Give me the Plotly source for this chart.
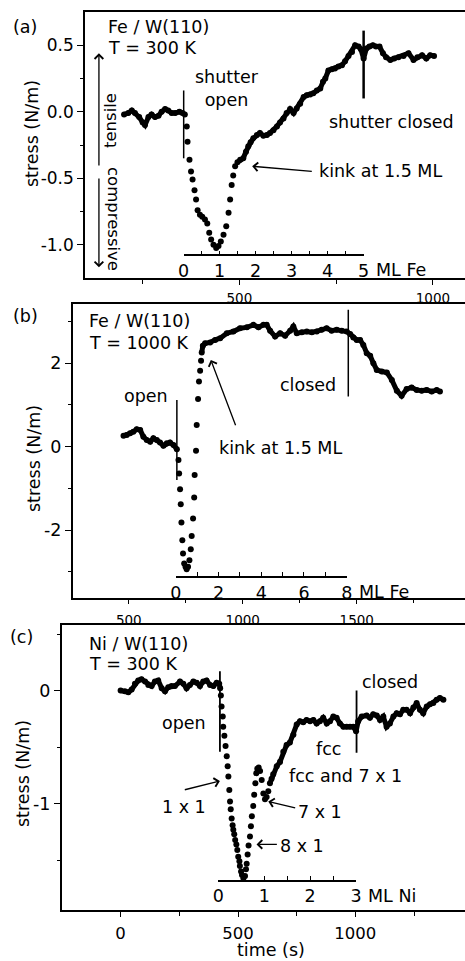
import plotly.graph_objects as go

W, H = 465, 961
FONT = "DejaVu Sans"

# ---------------- data (time s, stress N/m) ----------------
fe300_t = [202, 213, 222, 230, 241, 250, 256, 265, 273, 282, 291, 299, 308, 316, 325, 334, 345, 353, 359,
           364, 366, 371, 375, 379, 384, 388, 392, 398, 404, 411, 417, 422, 427, 433, 440, 446, 452, 459, 466,
           472, 476, 480, 484, 489, 495, 502, 510, 517, 523, 529, 536, 545, 553, 562, 571, 579, 588, 597, 605,
           614, 622, 631, 640, 648, 657, 666, 674, 683, 691, 700, 709, 716, 722, 730, 739, 747, 756, 765, 773,
           782, 791, 799, 808, 814, 821, 828, 836, 845, 853, 862, 871, 879, 890, 900, 911, 924, 937, 950, 960,
           972, 983, 993, 1003]
fe300_s = [-0.02, -0.01, 0.01, -0.01, -0.04, -0.08, -0.10, -0.04, -0.02, -0.04, -0.03, 0.00, 0.02, 0.01, -0.01, -0.01, 0.00, -0.01, -0.02,
           -0.11, -0.225, -0.36, -0.45, -0.51, -0.59, -0.66, -0.74, -0.775, -0.79, -0.81, -0.84, -0.91, -0.96, -1.00, -1.025, -1.01, -0.975, -0.925, -0.86,
           -0.76, -0.66, -0.55, -0.48, -0.41, -0.38, -0.36, -0.35, -0.30, -0.26, -0.23, -0.20, -0.175, -0.16, -0.18, -0.175, -0.16, -0.14, -0.11, -0.08,
           -0.05, -0.01, 0.02, -0.01, 0.025, 0.06, 0.11, 0.125, 0.13, 0.14, 0.16, 0.175, 0.225, 0.25, 0.31, 0.32, 0.325, 0.34, 0.35, 0.38,
           0.42, 0.45, 0.50, 0.49, 0.47, 0.40, 0.475, 0.49, 0.50, 0.49, 0.49, 0.44, 0.41, 0.39, 0.40, 0.41, 0.42, 0.44, 0.39, 0.41,
           0.425, 0.40, 0.425, 0.42]

fe1000_t = [477, 491, 506, 520, 535, 550, 564, 579, 594, 608, 623, 637, 652, 667, 681, 696, 711,
            718, 721, 725, 728, 731, 735, 738, 743, 749, 754, 760, 766, 772, 776, 782, 787, 789, 795, 798, 804, 808, 813, 817, 820, 825,
            835, 857, 879, 901, 930, 959, 988, 1018, 1047, 1069, 1091, 1105, 1120, 1142, 1164, 1186, 1208, 1222, 1237, 1259, 1281,
            1303, 1325, 1346, 1368, 1390, 1412, 1434, 1456, 1471, 1485, 1500, 1515, 1529, 1544, 1559, 1573, 1588, 1610, 1632, 1654,
            1676, 1697, 1719, 1741, 1763, 1785, 1807, 1829, 1851, 1865]
fe1000_s = [0.26, 0.28, 0.32, 0.36, 0.42, 0.40, 0.24, 0.16, 0.12, 0.20, 0.16, 0.10, 0.02, 0.08, 0.10, 0.04, -0.06,
            -0.32, -0.64, -1.02, -1.38, -1.82, -2.24, -2.56, -2.80, -2.88, -2.94, -2.88, -2.72, -2.46, -2.14, -1.72, -1.22, -0.68, -0.10, 0.52, 1.14, 1.56, 1.82, 2.06, 2.26, 2.42,
            2.48, 2.50, 2.56, 2.60, 2.72, 2.76, 2.84, 2.86, 2.92, 2.86, 2.92, 2.92, 2.78, 2.64, 2.72, 2.66, 2.78, 2.88, 2.72, 2.74, 2.76,
            2.74, 2.76, 2.80, 2.84, 2.78, 2.80, 2.78, 2.76, 2.70, 2.62, 2.56, 2.56, 2.44, 2.24, 2.18, 2.00, 1.84, 1.80, 1.78, 1.60,
            1.34, 1.22, 1.38, 1.42, 1.36, 1.34, 1.36, 1.32, 1.36, 1.32]

ni300_t = [0, 18, 33, 47, 61, 75, 89, 104, 118, 132, 146, 160, 175, 189, 203, 217, 231, 253, 267, 281, 295, 310, 324, 338, 352, 366, 381, 395, 409, 420, 424,
           427, 430, 435, 437, 442, 447, 452, 456, 459, 463, 466, 469, 473, 477, 480, 484, 488, 493, 497, 501, 506, 508, 513, 517, 523,
           530, 534, 537, 541, 545, 551, 555, 559, 565, 569, 574, 578, 582, 588, 594, 601, 608, 615, 622, 629, 636, 643, 650,
           665, 679, 693, 707, 721, 736, 750, 764, 778, 792, 807, 821, 835, 849, 863, 878, 892, 906, 920, 934, 949, 963, 977, 991, 1003,
           1012, 1027, 1048, 1062, 1076, 1091, 1105, 1119, 1133, 1147, 1162, 1176, 1190, 1204, 1218, 1233, 1247, 1261, 1275, 1289, 1304,
           1318, 1332, 1346, 1360, 1375]
ni300_s = [0.0, -0.006, -0.015, 0.01, 0.06, 0.09, 0.10, 0.08, 0.05, 0.04, 0.08, 0.09, 0.02, -0.006, 0.03, 0.04, 0.04, 0.08, 0.06, 0.02, 0.05, 0.08, 0.07, 0.04, 0.08, 0.09, 0.05, 0.04, 0.07, 0.06, 0.02,
           -0.044, -0.14, -0.23, -0.32, -0.40, -0.49, -0.58, -0.67, -0.76, -0.88, -0.98, -1.05, -1.13, -1.19, -1.23, -1.27, -1.32, -1.36, -1.41, -1.47, -1.51, -1.55, -1.60, -1.63, -1.66,
           -1.64, -1.58, -1.53, -1.45, -1.37, -1.29, -1.20, -1.11, -1.02, -0.92, -0.82, -0.73, -0.69, -0.68, -0.71, -0.79, -0.91, -0.96, -0.94, -0.89, -0.82, -0.78, -0.74,
           -0.67, -0.63, -0.54, -0.48, -0.46, -0.39, -0.30, -0.27, -0.28, -0.26, -0.27, -0.26, -0.29, -0.27, -0.24, -0.29, -0.27, -0.23, -0.24, -0.29, -0.32, -0.32, -0.32, -0.32, -0.36,
           -0.27, -0.23, -0.22, -0.24, -0.21, -0.22, -0.26, -0.23, -0.32, -0.29, -0.23, -0.20, -0.21, -0.17, -0.17, -0.20, -0.15, -0.11, -0.17, -0.20, -0.14,
           -0.12, -0.11, -0.08, -0.065, -0.08]

# shutter events: (time, top stress, bottom stress)
events_a = [(356, 0.16, -0.35), (821, 0.61, 0.10)]
events_b = [(711, 1.12, -0.80), (1463, 3.28, 1.20)]
events_c = [(423, 0.17, -0.54), (1005, 0.0, -0.55)]

# monolayer scales: (time of 0 ML, time of last ML, last ML, stress level, unit)
ml_a = (356, 821, 5, -1.08, "ML Fe")
ml_b = (706, 1456, 8, -3.12, "ML Fe")
ml_c = (416, 1003, 3, -1.68, "ML Ni")

# ---------------- layout geometry ----------------
A_XR, A_YR = [101, 1083], [-1.25, 0.75]
B_XR, B_YR = [254, 1975], [-3.62, 3.42]
C_XR, C_YR = [-251, 1467], [-1.94, 0.58]
A_XD, A_YD = [85 / W, 1.0], [1 - 278 / H, 1 - 12 / H]
B_XD, B_YD = [72.7 / W, 1.0], [1 - 597.7 / H, 1 - 304 / H]
C_XD, C_YD = [61.7 / W, 1.0], [1 - 910 / H, 1 - 625 / H]


def frac(v, rng, dom):
    return dom[0] + (v - rng[0]) / (rng[1] - rng[0]) * (dom[1] - dom[0])


def P(x, y):
    return x / W, 1 - y / H


fig = go.Figure()


def dense_line(ts, ss, lo, hi):
    xs, ys = [], []
    for t, s in zip(ts, ss):
        if t <= lo or t >= hi:
            if xs and ((xs[-1] is not None) and xs[-1] <= lo and t >= hi):
                xs.append(None); ys.append(None)
            xs.append(t); ys.append(s)
    return xs, ys


for ts, ss, xa, ya, lo, hi in [(fe300_t, fe300_s, "x", "y", 360, 495),
                               (fe1000_t, fe1000_s, "x2", "y2", 711, 820),
                               (ni300_t, ni300_s, "x3", "y3", 424, 636)]:
    lx, ly = dense_line(ts, ss, lo, hi)
    fig.add_trace(go.Scatter(x=lx, y=ly, mode="lines", xaxis=xa, yaxis=ya,
                             line=dict(color="black", width=5), hoverinfo="skip"))
    fig.add_trace(go.Scatter(x=ts, y=ss, mode="markers", xaxis=xa, yaxis=ya,
                             marker=dict(color="black", size=6, line=dict(width=0))))

# dummy traces to create ML-scale axes
for xa, ya in [("x4", "y"), ("x5", "y2"), ("x6", "y3")]:
    fig.add_trace(go.Scatter(x=[None], y=[None], xaxis=xa, yaxis=ya, mode="markers", hoverinfo="skip"))

axline = dict(showline=True, linecolor="black", linewidth=1.5, showgrid=False, zeroline=False,
              ticks="outside", tickcolor="black", tickwidth=1.2)


def minor(vals, ln, ticks="outside"):
    return dict(tickmode="array", tickvals=vals, ticks=ticks, ticklen=ln, tickcolor="black", tickwidth=1.2)


layout_axes = dict(
    xaxis=dict(axline, domain=A_XD, anchor="y", range=A_XR, mirror=True, ticklen=5,
               tickvals=[500, 1000], ticktext=["500", "1000"], tickfont=dict(size=13.5),
               minor=minor([250, 750], 4), ticklabelstandoff=2),
    yaxis=dict(axline, domain=A_YD, anchor="x", range=A_YR, ticklen=6,
               tickvals=[-1, -0.5, 0, 0.5], ticktext=["-1.0", "-0.5", "0.0", "0.5"],
               tickfont=dict(size=17), minor=minor([-0.75, -0.25, 0.25], 3)),
    xaxis2=dict(axline, domain=B_XD, anchor="y2", range=B_XR, mirror=True, ticklen=5,
                tickvals=[500, 1000, 1500], ticktext=["500", "1000", "1500"], tickfont=dict(size=13.5),
                minor=minor([750, 1250, 1750], 4), ticklabelstandoff=4),
    yaxis2=dict(axline, domain=B_YD, anchor="x2", range=B_YR, ticklen=6,
                tickvals=[-2, 0, 2], ticktext=["-2", "0", "2"], tickfont=dict(size=17.5),
                minor=minor([-3, -1, 1, 3], 3)),
    xaxis3=dict(axline, domain=C_XD, anchor="y3", range=C_XR, mirror=True, ticklen=5,
                tickvals=[0, 500, 1000], ticktext=["0", "500", "1000"], tickfont=dict(size=16.5),
                minor=minor([250, 750, 1250], 4), ticklabelstandoff=2),
    yaxis3=dict(axline, domain=C_YD, anchor="x3", range=C_YR, ticklen=6,
                tickvals=[-1, 0], ticktext=["-1", "0"], tickfont=dict(size=17.5),
                minor=minor([-1.5, -0.5, 0.5], 3)),
)

annotations = []
shapes = []

for name, ml, xr, xd, yr, yd, major in [("xaxis4", ml_a, A_XR, A_XD, A_YR, A_YD, 1),
                                         ("xaxis5", ml_b, B_XR, B_XD, B_YR, B_YD, 2),
                                         ("xaxis6", ml_c, C_XR, C_XD, C_YR, C_YD, 1)]:
    t0, t1, n, s, unit = ml
    dom = [frac(t0, xr, xd), frac(t1, xr, xd)]
    pos = frac(s, yr, yd)
    majors = list(range(0, n + 1, major))
    minors = [k / 2 for k in range(0, 2 * n + 1)] if major == 1 else list(range(1, n, 2))
    minors = [m for m in minors if m not in majors]
    layout_axes[name] = dict(showline=True, linecolor="black", linewidth=2 if major == 2 else 1.5,
                             showgrid=False, zeroline=False, domain=dom, anchor="free", position=pos,
                             range=[0, n], ticks="inside", ticklen=4, tickcolor="black", tickwidth=1.2,
                             tickvals=majors, ticktext=[str(m) for m in majors],
                             tickfont=dict(size=17.5), minor=minor(minors, 4, "inside"),
                             ticklabelstandoff=0)
    annotations.append(dict(xref=name.replace("axis", ""), yref="paper", x=n, y=pos, text=unit,
                            xanchor="left", yanchor="top", xshift=10, yshift=-3, showarrow=False,
                            font=dict(size=17.5)))

# shutter lines
for evs, xa, ya, widths in [(events_a, "x", "y", [1.5, 2.5]), (events_b, "x2", "y2", [1.5, 1.5]),
                            (events_c, "x3", "y3", [1.8, 1.8])]:
    for (t, top, bot), w in zip(evs, widths):
        shapes.append(dict(type="line", xref=xa, yref=ya, x0=t, x1=t, y0=bot, y1=top,
                           line=dict(color="black", width=w)))


def text(x, y, s, size=17.5, xanchor="left", angle=0):
    px_, py_ = P(x, y)
    annotations.append(dict(xref="paper", yref="paper", x=px_, y=py_, text=s, xanchor=xanchor,
                            yanchor="middle", showarrow=False, textangle=angle, font=dict(size=size)))


def arrow(xref, yref, x, y, ax, ay):
    annotations.append(dict(xref=xref, yref=yref, axref=xref, ayref=yref, x=x, y=y, ax=ax, ay=ay,
                            text="", showarrow=True, arrowhead=4, arrowsize=1.3, arrowwidth=1.3,
                            arrowcolor="black"))


# panel (a)
text(25, 27, "(a)", xanchor="center")
text(106, 27.5, "Fe / W(110)")
text(106, 48, "T = 300 K")
text(193, 88, "shutter<br>open")
text(327, 122, "shutter closed")
text(317, 171, "kink at 1.5 ML")
text(111, 121, "tensile", size=16.5, xanchor="center", angle=-90)
text(114, 219, "compressive", size=16.5, xanchor="center", angle=90)
text(32, 134, "stress (N/m)", xanchor="center", angle=-90)
arrow("x", "y", 533, -0.41, 691, -0.45)
arrow("x", "y", 137, 0.44, 137, -0.415)
arrow("x", "y", 137, -1.17, 137, -0.49)

# panel (b)
text(25, 316, "(b)", xanchor="center")
text(87, 321, "Fe / W(110)")
text(87, 343, "T = 1000 K")
text(122, 396, "open")
text(278, 385, "closed")
text(217, 448, "kink at 1.5 ML")
text(34, 459, "stress (N/m)", xanchor="center", angle=-90)
arrow("x2", "y2", 860, 2.08, 971, 0.48)

# panel (c)
text(21, 637, "(c)", xanchor="center")
text(87, 644, "Ni / W(110)")
text(87, 664, "T = 300 K")
text(160, 723, "open")
text(360, 682, "closed")
text(314, 749, "fcc")
text(287, 776, "fcc and 7 x 1")
text(160, 807, "1 x 1")
text(296, 812, "7 x 1")
text(278, 846, "8 x 1")
text(23, 774, "stress (N/m)", xanchor="center", angle=-90)
text(271, 950, "time (s)", xanchor="center")
arrow("x3", "y3", 423, -0.80, 267, -0.88)
arrow("x3", "y3", 629, -0.98, 750, -1.04)
arrow("x3", "y3", 579, -1.36, 672, -1.36)

fig.update_layout(
    template="none",
    width=W, height=H, autosize=False,
    margin=dict(l=0, r=0, t=0, b=0),
    paper_bgcolor="white", plot_bgcolor="rgba(0,0,0,0)",
    showlegend=False,
    font=dict(family=FONT, color="black", size=17),
    annotations=annotations, shapes=shapes,
    **layout_axes,
)

fig.write_html("out.html", config={"displayModeBar": False},
               post_script="document.body.style.margin='0px';document.body.style.overflow='hidden';")
